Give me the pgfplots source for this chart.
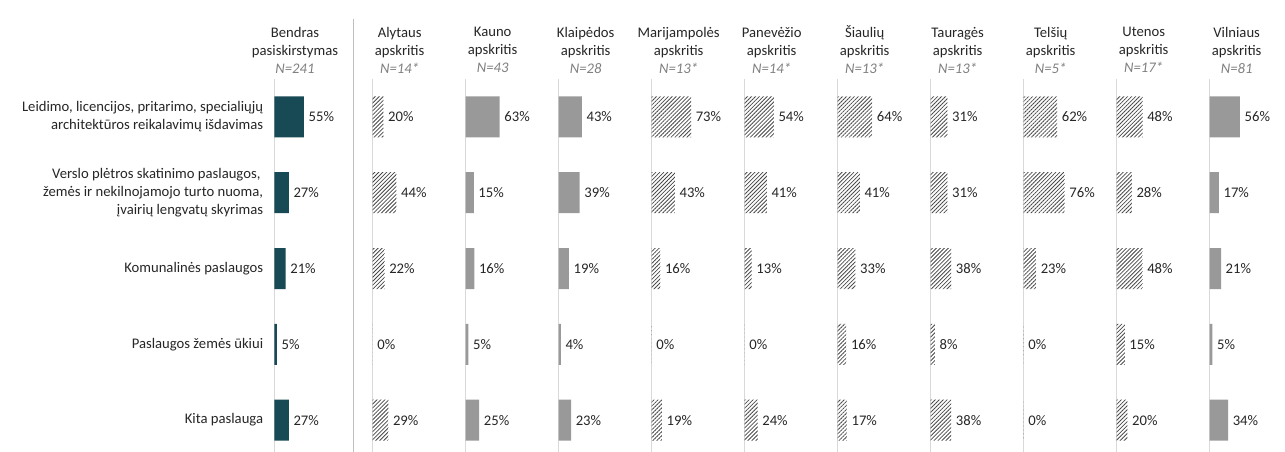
\documentclass[border=0pt]{standalone}
\usepackage{pgfplots}
\pgfplotsset{compat=1.18}
\usepackage{pgfplotstable}
\usetikzlibrary{patterns.meta}
\usepackage{fontspec}
\setmainfont{Carlito}
\definecolor{teal}{HTML}{174A55}
\definecolor{barg}{HTML}{999999}
\definecolor{ngray}{HTML}{7F7F7F}
\definecolor{txt}{HTML}{262626}

\pgfplotstableread{
row Bendras Alytaus Kauno Klaipedos Marijampoles Panevezio Siauliu Taurages Telsiu Utenos Vilniaus
0 55 20 63 43 73 54 64 31 62 48 56
1 27 44 15 39 43 41 41 31 76 28 17
2 21 22 16 19 16 13 33 38 23 48 21
3 5 0 5 4 0 0 16 8 0 15 5
4 27 29 25 23 19 24 17 38 0 20 34
}\datatable

\pgfplotsset{
  panel/.style={
    xbar, scale only axis, width=40.5pt, height=284.25pt,
    xmin=0, xmax=100, ymin=-0.5, ymax=4.5, y dir=reverse,
    enlargelimits=false, clip=false,
    axis x line=none, axis y line=left,
    axis line style={-, draw=black!15, line width=0.75pt},
    ytick={0,...,4}, yticklabels={}, major tick length=0pt,
    bar width=30.75pt,
    point meta=x,
    /pgf/number format/assume math mode=true,
    nodes near coords={\pgfmathprintnumber{\pgfplotspointmeta}\%},
    nodes near coords style={font=\fontsize{11}{13}\selectfont, text=txt},
    anchor=north west,
  },
  solidbar/.style={fill=barg, draw=none},
  hatchbar/.style={pattern={Lines[angle=45, distance=2.1pt, line width=0.6pt]}, pattern color=black!72, draw=none},
}

\newcommand{\county}[4]{%
  \begin{axis}[panel, at={(#1,-59.25pt)}]
    \addplot[#3] table[x=#2, y=row] {\datatable};
  \end{axis}
  \node[align=center, font=\fontsize{11}{13.5}\selectfont, text=txt] at ([xshift=20.25pt]#1,-37.5pt) {#4};
}

\begin{document}
\begin{tikzpicture}
\path[use as bounding box] (0,0) rectangle (963.75pt,-339pt);

\begin{axis}[panel, at={(205.7pt,-59.25pt)},
  yticklabels={{Leidimo, licencijos, pritarimo, specialiųjų\\architektūros reikalavimų išdavimas},
               {Verslo plėtros skatinimo paslaugos,\hspace*{2pt}\\žemės ir nekilnojamojo turto nuoma,\hspace*{2pt}\\įvairių lengvatų skyrimas},
               {Komunalinės paslaugos},
               {Paslaugos žemės ūkiui},
               {Kita paslauga}},
  yticklabel style={align=right, font=\fontsize{11}{13.7}\selectfont, text=txt, xshift=-4.8pt}]
  \addplot[fill=teal, draw=none] table[x=Bendras, y=row] {\datatable};
\end{axis}
\node[align=center, font=\fontsize{11}{13.5}\selectfont, text=txt] at (221.25pt,-37.5pt)
  {Bendras\\pasiskirstymas\\{\color{ngray}\itshape N=241}};

\draw[black!25, line width=1pt] (265.1pt,-14.25pt) -- (265.1pt,-339pt);

\county{279.5pt}{Alytaus}{hatchbar}{Alytaus\\apskritis\\{\color{ngray}\itshape N=14*}}
\county{349.25pt}{Kauno}{solidbar}{Kauno\\apskritis\\{\color{ngray}\itshape N=43}}
\county{419pt}{Klaipedos}{solidbar}{Klaipėdos\\apskritis\\{\color{ngray}\itshape N=28}}
\county{488.75pt}{Marijampoles}{hatchbar}{Marijampolės\\apskritis\\{\color{ngray}\itshape N=13*}}
\county{558.5pt}{Panevezio}{hatchbar}{Panevėžio\\apskritis\\{\color{ngray}\itshape N=14*}}
\county{628.25pt}{Siauliu}{hatchbar}{Šiaulių\\apskritis\\{\color{ngray}\itshape N=13*}}
\county{698pt}{Taurages}{hatchbar}{Tauragės\\apskritis\\{\color{ngray}\itshape N=13*}}
\county{767.75pt}{Telsiu}{hatchbar}{Telšių\\apskritis\\{\color{ngray}\itshape N=5*}}
\county{837.5pt}{Utenos}{hatchbar}{Utenos\\apskritis\\{\color{ngray}\itshape N=17*}}
\county{907.25pt}{Vilniaus}{solidbar}{Vilniaus\\apskritis\\{\color{ngray}\itshape N=81}}
\end{tikzpicture}
\end{document}
